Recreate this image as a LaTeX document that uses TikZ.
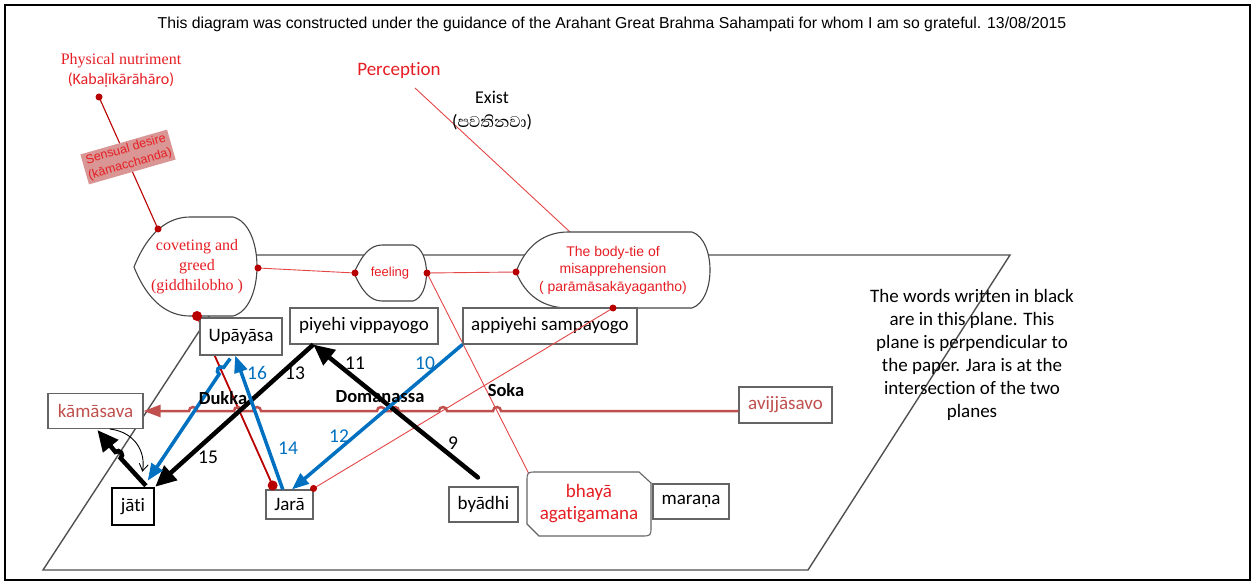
\documentclass[tikz,border=0pt]{standalone}
\usepackage{fontspec}
\setmainfont{Carlito}[Ligatures=NoCommon]
\newfontfamily\arialf{Liberation Sans}
\newfontfamily\timesf{Liberation Serif}
\newfontfamily\sinhalaf[Script=Sinhala]{Abhaya Libre}
\usetikzlibrary{arrows.meta,calc}
\newcommand\fsz[2]{\fontsize{#1}{#2}\selectfont}
\definecolor{tred}{RGB}{230,30,36}
\definecolor{brred}{RGB}{192,80,77}
\definecolor{dkred}{RGB}{185,0,0}
\definecolor{lred}{RGB}{228,70,70}
\definecolor{oblue}{RGB}{0,112,192}
\definecolor{boxgray}{RGB}{100,100,100}
\definecolor{shapegray}{RGB}{70,70,70}
\definecolor{planegray}{RGB}{80,80,80}
\definecolor{pinkfill}{RGB}{218,150,148}
\begin{document}
\begin{tikzpicture}[x=1pt,y=-1pt,
  box/.style={draw=boxgray,line width=1.1pt,fill=white,inner sep=0pt,font=\fsz{19}{22}},
  shapeline/.style={draw=shapegray,line width=1.1pt,fill=white},
  planeline/.style={draw=planegray,line width=1.4pt},
  thinred/.style={draw=lred,line width=0.9pt},
  darkredline/.style={draw=dkred,line width=1.8pt},
  blk/.style={draw=black,line width=4.5pt,-{Triangle[length=21pt,width=19pt]}},
  blu/.style={draw=oblue,line width=3.5pt,-{Triangle[length=17pt,width=13pt]}},
  redarr/.style={draw=brred,line width=2.5pt,-{Triangle[length=17pt,width=12pt]}},
  num/.style={font=\fsz{19.5}{22},inner sep=0pt},
  bnum/.style={num,text=oblue},
  boldlab/.style={font=\bfseries\fsz{18.5}{20},inner sep=0pt}
]
\useasboundingbox (0,0) rectangle (1257,585);
\draw[line width=2.5pt] (5,5) rectangle (1250,580);

% title
\node[font=\arialf\fsz{15.8}{18}] (title) at (612,24) {This diagram was constructed under the guidance of the Arahant Great Brahma Sahampati for whom I am so grateful. 13/08/2015};

% plane
\draw[planeline] (43,570) -- (249,255) -- (1010,255) -- (808,570) -- cycle;

% named points
\coordinate (physDot) at (99,97);
\coordinate (covTL) at (158,229);
\coordinate (covR) at (258,268);
\coordinate (covB) at (197,316);
\coordinate (feelL) at (355,273);
\coordinate (feelR) at (427,273);
\coordinate (bodyL) at (516,272);
\coordinate (bodyB) at (613,308);
\coordinate (bodyT) at (570,232);
\coordinate (percEnd) at (415,88);
\coordinate (bhayaTL) at (529,474);

% boxes needed for anchors
\node[box,minimum width=47pt,minimum height=29pt] (jara) at (289.5,504.5) {Jarā};

% thin red connectors
\draw[draw=dkred,line width=1.1pt] (physDot) -- (covTL);
\draw[thinred] (percEnd) -- (bodyT);
\draw[thinred] (covR) -- (feelL);
\draw[thinred] (feelR) -- (bodyL);
\draw[thinred] (feelR) -- (bhayaTL);
\coordinate (jaraL) at ($(jara.north west)!0.15!(jara.north east)+(0,-4)$);
\coordinate (jaraR) at ($(jara.north east)+(0,-1)$);
\draw[darkredline] (covB) -- (jaraL);
\node[box,minimum width=82pt,minimum height=37pt] (upa) at (241,336.5) {Upāyāsa};

% shapes
\draw[shapeline] (134,267) .. controls (148,232) and (168,217) .. (190,217) -- (233,217) .. controls (265,225) and (265,308) .. (233,316) -- (190,316) .. controls (168,316) and (148,302) .. (134,267) -- cycle;
\draw[shapeline] (354,273) .. controls (362,255) and (370,245) .. (382,245) -- (413,245) .. controls (431,250) and (431,296) .. (413,301) -- (382,301) .. controls (370,301) and (362,291) .. (354,273) -- cycle;
\draw[shapeline] (516,272) .. controls (526,245) and (545,232) .. (568,232) -- (692,232) .. controls (716,240) and (716,300) .. (692,308) -- (568,308) .. controls (545,308) and (526,297) .. (516,272) -- cycle;
\draw[draw=boxgray,line width=1.1pt,fill=white] (537,472) -- (639,472) -- (651,483) -- (651,526) .. controls (651,536) .. (641,536) -- (539,536) -- (527,524) -- (527,482) .. controls (527,472) .. (537,472) -- cycle;

\node[font=\timesf\fsz{16}{20},text=tred,align=center] (covtxt) at (197,267) {coveting and\\greed\\(giddhilobho )};
\node[font=\arialf\fsz{13}{15},text=tred] (feeltxt) at (390,273) {feeling};
\node[font=\arialf\fsz{14}{17.5},text=tred,align=center] (bodytxt) at (613,270) {The body-tie of\\misapprehension\\( parāmāsakāyagantho)};
\node[font=\fsz{19}{22},text=tred,align=center] (bhaya) at (589,504) {bhayā\\agatigamana};

% other boxes
\node[box,minimum width=148pt,minimum height=36pt] (piy) at (364,326) {piyehi vippayogo};
\node[box,minimum width=174pt,minimum height=36pt] (app) at (550,326) {appiyehi sampayogo};
\node[box,minimum width=95pt,minimum height=35pt,text=brred] (kam) at (95.5,411) {kāmāsava};
\node[box,draw=black,line width=2.5pt,minimum width=42pt,minimum height=37pt] (jati) at (133,506.5) {jāti};
\node[box,minimum width=69pt,minimum height=35pt] (bya) at (483.5,504.5) {byādhi};
\node[box,minimum width=76pt,minimum height=35pt] (mar) at (691,501.5) {maraṇa};
\node[box,minimum width=93pt,minimum height=36pt,text=brred] (avij) at (785.5,405) {avijjāsavo};

% thin red over appiyehi box
\draw[thinred] (bodyB) -- (jaraR);

% red horizontal arrow with line jumps
\draw[redarr] ([yshift=-6pt]avij.west) -- (501,411) arc[start angle=0,end angle=-180,radius=4]
  -- (447,411) arc[start angle=0,end angle=-180,radius=4]
  -- (399,411) arc[start angle=0,end angle=-180,radius=4]
  -- (385,411) arc[start angle=0,end angle=-180,radius=4]
  -- (261,411) arc[start angle=0,end angle=-180,radius=4]
  -- (242,411) arc[start angle=0,end angle=-180,radius=4]
  -- (197,411) arc[start angle=0,end angle=-180,radius=4]
  -- (kam.east);

% attach points
\coordinate (piyB) at ($(piy.south west)!0.16!(piy.south east)$);
\coordinate (byaT) at ($(bya.north west)!0.42!(bya.north east)+(0,-9)$);
\coordinate (jaraTR) at ($(jara.north west)!0.55!(jara.north east)$);
\coordinate (jaraT) at ($(jara.north west)!0.36!(jara.north east)$);
\coordinate (upaB) at ($(upa.south west)!0.43!(upa.south east)$);
\coordinate (upaBL) at ($(upa.south west)!0.37!(upa.south east)+(0,3)$);
\coordinate (jatiT) at ($(jati.north west)!0.83!(jati.north east)+(0,-6)$);
\coordinate (jatiTL) at ($(jati.north west)!0.79!(jati.north east)+(0,-1)$);
\coordinate (kamB) at ($(kam.south west)!0.52!(kam.south east)+(0,1)$);
\coordinate (kamBR) at ($(kam.south west)!0.65!(kam.south east)$);
\coordinate (jatiTop2) at ($(jati.north west)!0.71!(jati.north east)+(0,-15)$);

% black arrows
\draw[blk,line cap=round] (byaT) -- (piyB);
\draw[blk] (piyB) -- (jati.north east);
\draw[blk] (jatiTL) -- (120.6,458.1) arc[start angle=49.9,end angle=-130.1,radius=4] -- (kamB);
\draw[line width=0.9pt,-{Straight Barb[length=7pt,width=9pt]}] (kamBR) .. controls (135,432) and (146,452) .. (jatiTop2);

% blue arrows
\draw[blu] (app.south west) -- (jaraTR);
\draw[blu] (jaraT) -- (upaB);
\draw[blu] (upaBL) -- (223.6,367.5) arc[start angle=-56.2,end angle=-236.2,radius=4] -- (jatiT);

% dots
\fill[dkred] (physDot) circle[radius=3.5];
\fill[dkred] (covTL) circle[radius=3.5];
\fill[dkred] (covR) circle[radius=3.5];
\fill[dkred] (covB) circle[radius=5];
\fill[dkred] (feelL) circle[radius=3.5];
\fill[dkred] (feelR) circle[radius=3.5];
\fill[dkred] (bodyL) circle[radius=3.5];
\fill[dkred] (bodyB) circle[radius=3.5];
\fill[dkred] (jaraL) circle[radius=5];
\fill[dkred] (jaraR) circle[radius=3.5];

% numbers and bold labels
\node[num] (n13) at (295,373) {13};
\node[num] (n11) at (355,363) {11};
\node[bnum] (n10) at (425,363) {10};
\node[bnum] (n12) at (339,436) {12};
\node[bnum] (n14) at (288,448) {14};
\node[num] (n9) at (453,443) {9};
\node[num] (n15) at (208,457) {15};
\node[bnum] (n16) at (257,373) {16};
\node[boldlab] (dukka) at (223,398) {Dukka};
\node[boldlab] (doma) at (380,397) {Domanassa};
\node[boldlab] (soka) at (506,390) {Soka};

% top texts
\node[font=\timesf\fsz{16}{19},text=tred] (phys1) at (121,61) {Physical nutriment};
\node[font=\fsz{16}{19},text=tred] (phys2) at (121,80) {(Kabaḷīkārāhāro)};
\node[rotate=16,fill=pinkfill,text=tred,font=\arialf\fsz{12.5}{15.5},align=center,inner sep=2pt] (sens) at (128,157) {Sensual desire\\(kāmacchanda)};
\node[font=\fsz{19}{22},text=tred] (perc) at (399,70) {Perception};
\node[font=\fsz{18}{21}] (exist) at (492,97) {Exist};
\node[font=\fsz{18}{21}] (exist2) at (492,122) {({\sinhalaf\fsz{20}{21}පවතිනවා})};

% plane description
\node[font=\fsz{19}{23},align=center] (planetxt) at (972,354.5) {The words written in black\\are in this plane. This\\plane is perpendicular to\\the paper. Jara is at the\\intersection of the two\\planes};
\end{tikzpicture}
\end{document}
